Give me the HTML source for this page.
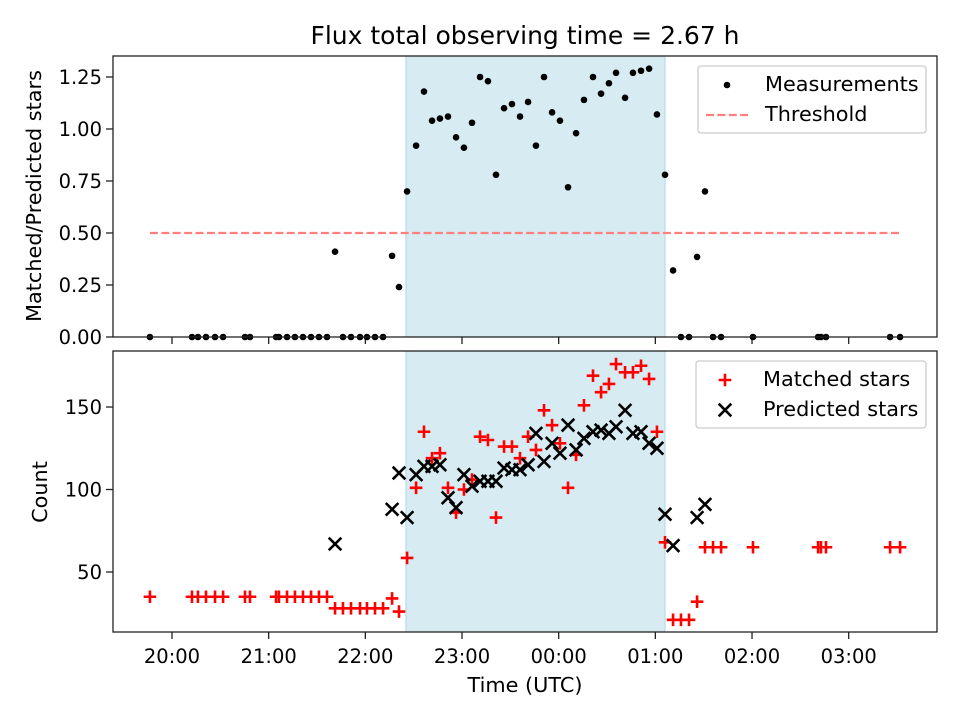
<!DOCTYPE html>
<html><head><meta charset="utf-8"><style>
html,body{margin:0;padding:0;background:#fff}
svg{display:block;font-family:"DejaVu Sans","Liberation Sans",sans-serif}
</style></head><body>
<svg id="chart" width="960" height="720" viewBox="0 0 960 720" xmlns="http://www.w3.org/2000/svg">
<rect width="960" height="720" fill="#fff"/>
<text x="525" y="44" font-size="25" text-anchor="middle" fill="#000">Flux total observing time = 2.67 h</text>
<g id="topPanel"></g><g id="botPanel"></g>
<text x="525" y="692" font-size="20.8" text-anchor="middle">Time (UTC)</text>
<text transform="translate(41,196) rotate(-90)" font-size="20.8" text-anchor="middle">Matched/Predicted stars</text>
<text transform="translate(47,492) rotate(-90)" font-size="20.8" text-anchor="middle">Count</text>
</svg>
<script>
// minutes since 20:00 UTC
const times=[-13.7,12.4,16.1,21.1,26.7,31.7,45.3,48.4,64.6,66.4,71.4,76.3,81.3,86.3,91.2,96.2,101.2,106.1,111.1,116.7,121.0,126.0,131.0,136.6,140.9,145.9,151.5,156.4,161.4,166.3,171.3,176.3,181.2,186.2,191.2,196.1,201.1,206.1,211.0,216.0,221.0,225.9,230.9,235.9,240.8,245.8,250.8,255.7,261.3,266.3,271.2,275.6,281.2,286.1,291.1,296.1,301.0,306.0,311.0,315.9,320.9,325.9,330.8,335.8,340.8,360.6,401.0,402.8,405.9,445.7,451.9];
const ratio=[0,0,0,0,0,0,0,0,0,0,0,0,0,0,0,0,0.41,0,0,0,0,0,0,0.39,0.24,0.70,0.92,1.18,1.04,1.05,1.06,0.96,0.91,1.03,1.25,1.23,0.78,1.10,1.12,1.06,1.13,0.92,1.25,1.08,1.04,0.72,0.98,1.14,1.25,1.17,1.22,1.27,1.15,1.27,1.28,1.29,1.07,0.78,0.32,0,0,0.385,0.70,0,0,0,0,0,0,0,0];
const matched=[35,35,35,35,35,35,35,35,35,35,35,35,35,35,35,35,28,28,28,28,28,28,28,34,26,58.5,101,135,119,122,101,86,100,106,132,130,83,126,126,119,132,124,148,139,128,101,121,151,169,159,164,176,171,171,175,167,135,68,21,21,21,32,65,65,65,65,65,65,65,65,65];
const predicted=[null,null,null,null,null,null,null,null,null,null,null,null,null,null,null,null,67,null,null,null,null,null,null,88,110,83,109,114,114,115,95,89,109,102,105,105,105,113,112,112,115,134,117,128,122,139,124,131,135,136,134,138,148,134,135,128,125,85,66,null,null,83,91,null,null,null,null,null,null,null,null];
const threshold=0.5;
const spanStart=145.2, spanEnd=306.0;
const xTickLabels=["20:00","21:00","22:00","23:00","00:00","01:00","02:00","03:00"];
const xTickMinutes=[0,60,120,180,240,300,360,420];
const topTicks=[0,0.25,0.5,0.75,1.0,1.25];
const botTicks=[50,100,150];

const NS="http://www.w3.org/2000/svg";
const L=113,R=937;
const TF=19.5;
const xS=m=>172+m*96.67/60;
const yTop=v=>337-v*208;
const yBot=v=>572-(v-50)*1.65;
function mk(parent,tag,attrs){const e=document.createElementNS(NS,tag);for(const k in attrs)e.setAttribute(k,attrs[k]);parent.appendChild(e);return e;}

function panel(g,y0,y1,ticks,yf,fmt,labels,pfx){
  const sp=mk(g,'rect',{x:xS(spanStart),y:y0,width:xS(spanEnd)-xS(spanStart),height:y1-y0,fill:'#add8e6','fill-opacity':0.5,stroke:'#add8e6'});
  
  
  xTickMinutes.forEach((m,i)=>{
    const t=mk(g,'line',{x1:xS(m),x2:xS(m),y1:y1,y2:y1+7,stroke:'#222','stroke-width':1.3});
    
    
    if(labels){const tx=mk(g,'text',{x:xS(m),y:y1+31,'font-size':TF,'text-anchor':'middle'});tx.textContent=xTickLabels[i];
      
      }
  });
  ticks.forEach(v=>{
    const t=mk(g,'line',{x1:L-7,x2:L,y1:yf(v),y2:yf(v),stroke:'#222','stroke-width':1.3});
    
    
    const tx=mk(g,'text',{x:L-11,y:yf(v)+7,'font-size':TF,'text-anchor':'end'});tx.textContent=fmt(v);
    
    
  });
}
const gTop=document.getElementById('topPanel'),gBot=document.getElementById('botPanel');
panel(gTop,56,337,topTicks,yTop,v=>v.toFixed(2),false,'top');
panel(gBot,351,632,botTicks,yBot,v=>String(v),true,'bottom');

const th=mk(gTop,'line',{x1:xS(times[0]),x2:xS(times[times.length-1]),y1:yTop(threshold),y2:yTop(threshold),stroke:'#ff7f7f','stroke-width':2.2,'stroke-dasharray':'8,3.4'});


times.forEach((t,i)=>{
  const c=mk(gTop,'circle',{cx:xS(t),cy:yTop(ratio[i]),r:3.3,fill:'#000'});
  
  
});
const P=6.3;
times.forEach((t,i)=>{
  const x=xS(t),y=yBot(matched[i]);
  const p=mk(gBot,'path',{d:`M${x-P},${y}H${x+P}M${x},${y-P}V${y+P}`,stroke:'#f00','stroke-width':2.6});
  
  
});
times.forEach((t,i)=>{
  if(predicted[i]==null)return;
  const x=xS(t),y=yBot(predicted[i]);
  const p=mk(gBot,'path',{d:`M${x-P},${y-P}L${x+P},${y+P}M${x-P},${y+P}L${x+P},${y-P}`,stroke:'#000','stroke-width':2.6});
  
  
});
[[56,337,'top'],[351,632,'bottom']].forEach(([a,b,n])=>{
  const r=mk(n==='top'?gTop:gBot,'rect',{x:L,y:a,width:R-L,height:b-a,fill:'none',stroke:'#222','stroke-width':1.3});
  
  
});
function legend(g,x,y,w,items,pfx){
  const b=mk(g,'rect',{x:x,y:y,width:w,height:67,rx:3,fill:'#fff','fill-opacity':0.8,stroke:'#ccc','stroke-width':1.3});
  
  
  items.forEach((it,i)=>{
    const cy=y+18+i*30;
    it.draw(x+29,cy);
    const t=mk(g,'text',{x:x+67,y:cy+7,'font-size':20.8});t.textContent=it.label;
    
    
  });
}
legend(gTop,698,66,228,[
 {label:'Measurements',draw:(x,y)=>mk(gTop,'circle',{cx:x,cy:y+1,r:3.3,fill:'#000'})},
 {label:'Threshold',draw:(x,y)=>mk(gTop,'line',{x1:x-21,x2:x+21,y1:y+1,y2:y+1,stroke:'#ff7f7f','stroke-width':2.2,'stroke-dasharray':'8,3.4'})}
],'top');
legend(gBot,696,361,230,[
 {label:'Matched stars',draw:(x,y)=>mk(gBot,'path',{d:`M${x-P},${y+1}H${x+P}M${x},${y+1-P}V${y+1+P}`,stroke:'#f00','stroke-width':2.6})},
 {label:'Predicted stars',draw:(x,y)=>mk(gBot,'path',{d:`M${x-P},${y+1-P}L${x+P},${y+1+P}M${x-P},${y+1+P}L${x+P},${y+1-P}`,stroke:'#000','stroke-width':2.6})}
],'bottom');
</script>
</body></html>
